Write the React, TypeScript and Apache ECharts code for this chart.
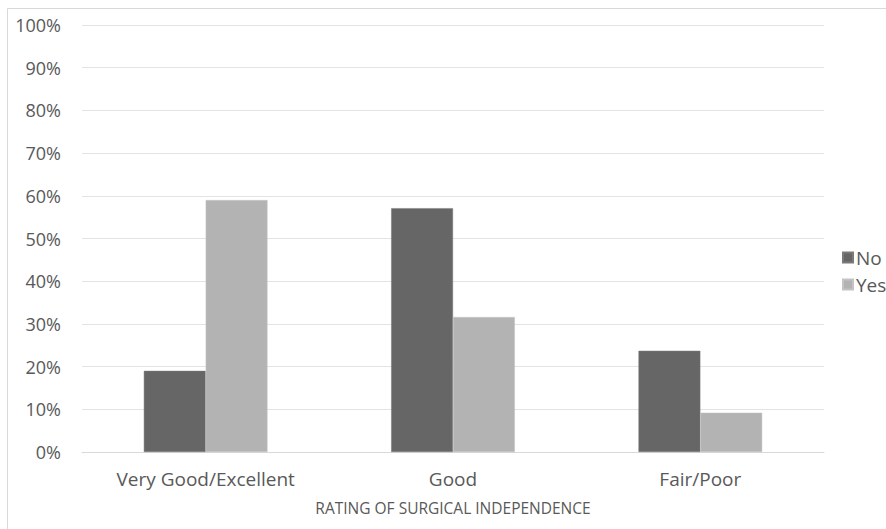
import React, { useEffect, useRef } from "react";
import * as echarts from "echarts";

const categories = ["Very Good/Excellent", "Good", "Fair/Poor"];
const seriesNames = ["No", "Yes"];
const noValues = [0.19, 0.571, 0.237];
const yesValues = [0.59, 0.316, 0.092];
const colors = ["#666666", "#b3b3b3"];
const xAxisTitle = "RATING OF SURGICAL INDEPENDENCE";

export default function App() {
  const ref = useRef<HTMLDivElement>(null);
  useEffect(() => {
    if (!ref.current) return;
    const chart = echarts.init(ref.current, null, { renderer: "svg" });
    const font = "'Open Sans', sans-serif";
    chart.setOption({
      animation: false,
      backgroundColor: "#ffffff",
      textStyle: { fontFamily: font },
      graphic: [
        {
          type: "rect",
          shape: { x: 7.5, y: 8.5, width: 1000, height: 1000 },
          style: { fill: "none", stroke: "#d9d9d9", lineWidth: 1 },
          silent: true,
        },
      ],
      grid: { left: 82, right: 62, top: 25, bottom: 77, containLabel: false },
      legend: {
        orient: "vertical",
        left: 837,
        top: 243,
        itemWidth: 10,
        itemHeight: 10,
        itemGap: 8,
        icon: "rect",
        textStyle: { fontSize: 19, color: "#595959", fontFamily: font, padding: [0, 0, 0, -2] },
        data: seriesNames,
      },
      xAxis: {
        type: "category",
        data: categories,
        axisLine: { show: true, lineStyle: { color: "#d9d9d9" } },
        axisTick: { show: false },
        axisLabel: { fontSize: 19, color: "#595959", margin: 17, fontFamily: font },
        name: xAxisTitle,
        nameLocation: "middle",
        nameGap: 48,
        nameTextStyle: { fontSize: 15.5, color: "#595959", fontFamily: font },
      },
      yAxis: {
        type: "value",
        min: 0,
        max: 1,
        interval: 0.1,
        axisLine: { show: false },
        axisTick: { show: false },
        splitLine: { lineStyle: { color: "#e3e3e3", width: 1 } },
        axisLabel: {
          fontSize: 18,
          color: "#595959",
          margin: 21,
          fontFamily: font,
          formatter: (v: number) => Math.round(v * 100) + "%",
        },
      },
      series: [
        {
          name: seriesNames[0],
          type: "bar",
          data: noValues,
          barGap: "0%",
          barCategoryGap: "50%",
          itemStyle: { color: colors[0], borderColor: "#7a7a7a", borderWidth: 0.5 },
        },
        {
          name: seriesNames[1],
          type: "bar",
          data: yesValues,
          itemStyle: { color: colors[1], borderColor: "#c4c4c4", borderWidth: 0.5 },
        },
      ],
    });
    return () => chart.dispose();
  }, []);
  return (
    <div
      ref={ref}
      style={{ position: "fixed", left: 0, top: 0, width: 886, height: 529 }}
    />
  );
}
